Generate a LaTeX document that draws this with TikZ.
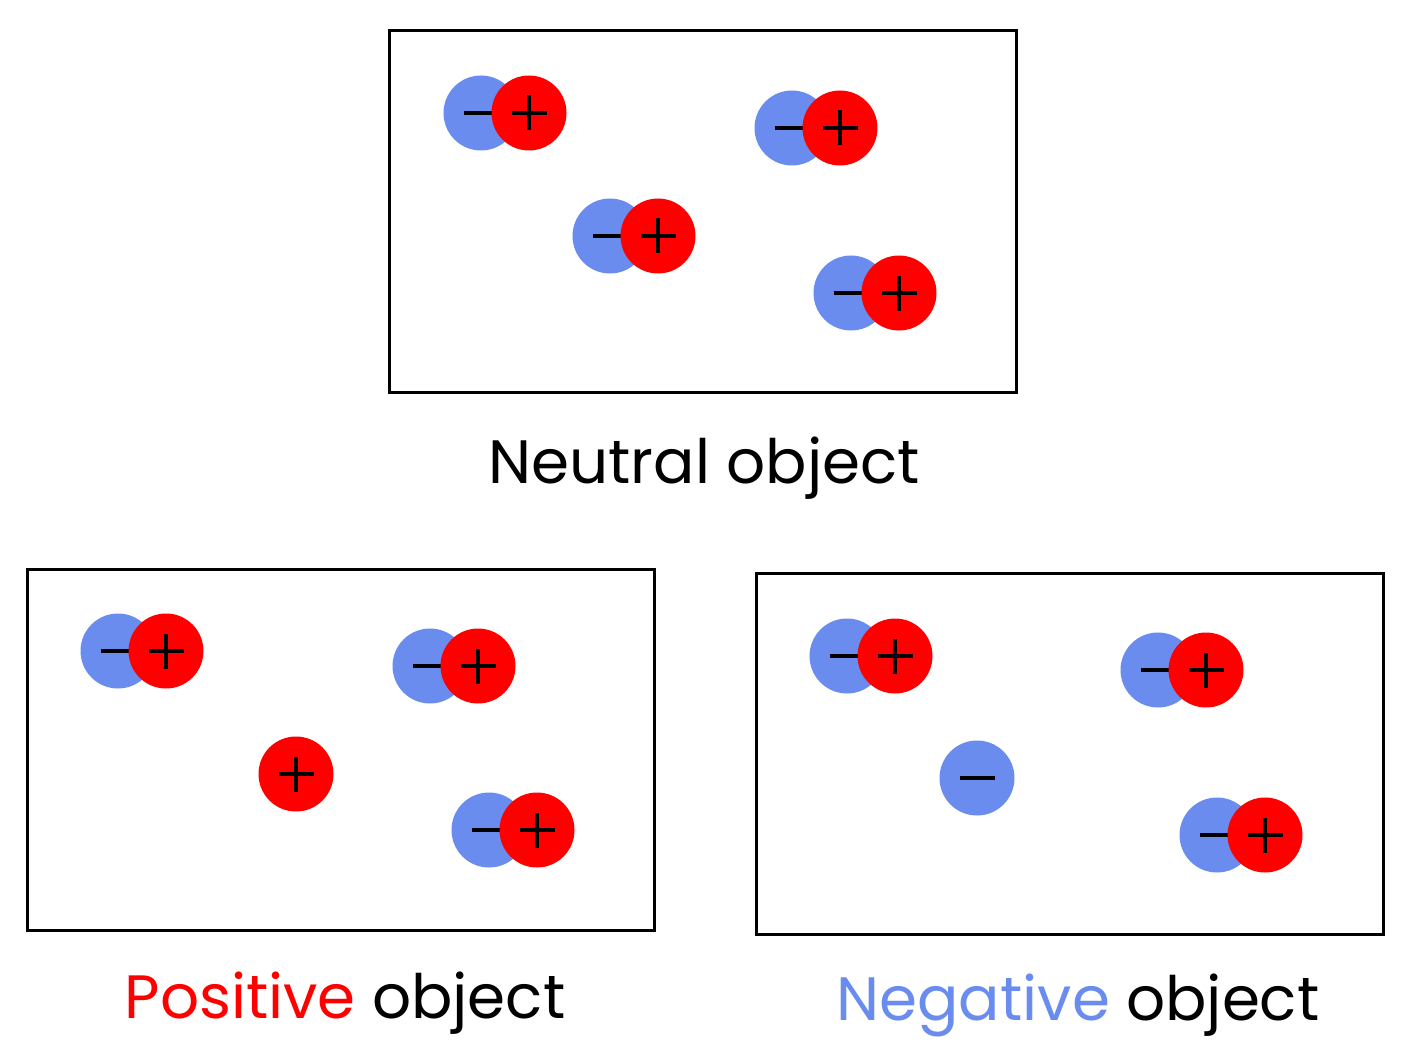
\documentclass[tikz,border=0pt]{standalone}
\usepackage{fontspec}
\setmainfont{Poppins}
\usetikzlibrary{positioning}
\definecolor{ChargeBlue}{HTML}{6A8CEE}
\definecolor{ChargeRed}{HTML}{FF0000}

\begin{document}
\begin{tikzpicture}[
    x=0.5pt, y=-0.5pt,
    % Marcos de los objetos
    objframe/.style={
            rectangle,
            draw=black,
            line width=1.5pt,
            minimum width=313.5pt,
            minimum height=180.5pt,
            inner sep=0pt
        },
    % Carga negativa
    negcharge/.style={
            circle,
            fill=ChargeBlue,
            minimum size=37.5pt,
            inner sep=0pt,
            path picture={
                    \draw[line width=2.3pt] ([xshift=-8.75pt]path picture bounding box.center) -- ++(17.5pt,0);
                }
        },
    % Carga positiva
    poscharge/.style={
            circle,
            fill=ChargeRed,
            minimum size=37.5pt,
            inner sep=0pt,
            path picture={
                    \draw[line width=2.3pt] ([xshift=-8.75pt]path picture bounding box.center) -- ++(17.5pt,0);
                    \draw[line width=2.3pt] ([yshift=-8.75pt]path picture bounding box.center) -- ++(0,17.5pt);
                }
        },
    % Textos
    caption/.style={
            anchor=base,
            font=\fontsize{30.6}{36}\selectfont,
            inner sep=0pt
        }
    ]

    \useasboundingbox (0,0) rectangle (1410,1054);

    % ========== OBJETO NEUTRO ==========
    \node[objframe] (neutral) at (702.5,211.5) {};
    \node[negcharge] (na1) at (481,113) {};
    \node[poscharge, xshift=24pt] (nb1) at (na1) {};
    \node[negcharge] (na2) at (792,128) {};
    \node[poscharge, xshift=24pt] (nb2) at (na2) {};
    \node[negcharge] (na3) at (610,236) {};
    \node[poscharge, xshift=24pt] (nb3) at (na3) {};
    \node[negcharge] (na4) at (851,293) {};
    \node[poscharge, xshift=24pt] (nb4) at (na4) {};
    \node[caption] (neutraltxt) at (704,483) {Neutral object};

    % ========== OBJETO POSITIVO ==========
    \node[objframe] (positive) at (341,749.5) {};
    \node[negcharge] (pa1) at (118,651) {};
    \node[poscharge, xshift=24pt] (pb1) at (pa1) {};
    \node[negcharge] (pa2) at (430,666) {};
    \node[poscharge, xshift=24pt] (pb2) at (pa2) {};
    \node[poscharge] (pb3) at (296,774) {};
    \node[negcharge] (pa4) at (489,830) {};
    \node[poscharge, xshift=24pt] (pb4) at (pa4) {};
    \node[caption] (positivetxt) at (345,1018) {\textcolor{ChargeRed}{Positive} object};

    % ========== OBJETO NEGATIVO ==========
    \node[objframe] (negative) at (1069.5,753.5) {};
    \node[negcharge] (ga1) at (847,656) {};
    \node[poscharge, xshift=24pt] (gb1) at (ga1) {};
    \node[negcharge] (ga2) at (1158,670) {};
    \node[poscharge, xshift=24pt] (gb2) at (ga2) {};
    \node[negcharge] (ga3) at (977,778) {};
    \node[negcharge] (ga4) at (1217,835) {};
    \node[poscharge, xshift=24pt] (gb4) at (ga4) {};
    \node[caption] (negativetxt) at (1078,1020) {\textcolor{ChargeBlue}{Negative} object};

\end{tikzpicture}
\end{document}
